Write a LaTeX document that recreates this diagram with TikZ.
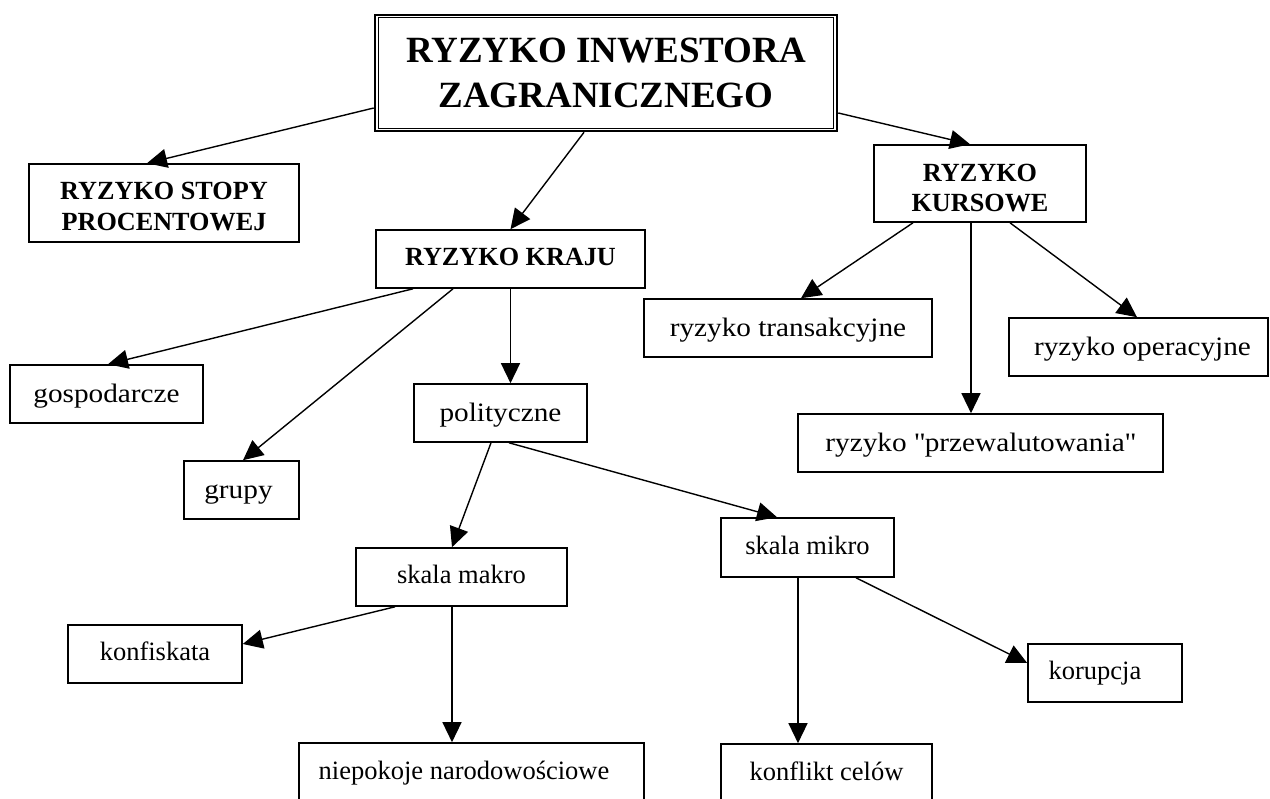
\documentclass[tikz,border=0pt]{standalone}
\usepackage{fontspec}
\setmainfont{Liberation Serif}
\newfontfamily\widefont[FakeStretch=1.1]{Liberation Serif}
\usetikzlibrary{arrows.meta}
\begin{document}
\begin{tikzpicture}[x=1pt,y=-1pt,
  box/.style={draw,line width=1.6pt,rectangle,inner sep=0pt,anchor=center},
  big/.style={box,minimum height=58pt,font=\widefont\fontsize{26.6}{32}\selectfont,text height=19pt,text depth=1pt},
  small/.style={box,minimum height=58pt,font=\fontsize{26.5}{32}\selectfont,text height=16pt,text depth=2.6pt},
  head/.style={box,font=\bfseries\fontsize{26.2}{31}\selectfont},
  arr/.style={line width=1.4pt,-{Triangle[length=20pt,width=19pt]}},
]
\clip (0,0) rectangle (1270,799);
% main
\node[box,line width=2.6pt,minimum width=462pt,minimum height=116pt,
  font=\bfseries\fontsize{37}{45}\selectfont,text height=24pt,text depth=44pt]
  (main) at (606,73) {\begin{tabular}[t]{@{}c@{}}RYZYKO INWESTORA\\ZAGRANICZNEGO\end{tabular}};
\draw[line width=1.3pt] ([shift={(5,4)}]main.north west) rectangle ([shift={(-5,-4)}]main.south east);
% level 1
\node[head,minimum width=270pt,minimum height=78pt,text height=17pt,text depth=23pt]
  (stopy) at (164,203) {\begin{tabular}[t]{@{}c@{}}RYZYKO STOPY\\PROCENTOWEJ\end{tabular}};
\node[head,minimum width=269pt,minimum height=58pt,text height=17pt,text depth=3pt]
  (kraju) at (510.5,259) {RYZYKO KRAJU};
\node[head,minimum width=212pt,minimum height=77pt,text height=17pt,text depth=20pt,
  font=\bfseries\fontsize{26.2}{30}\selectfont]
  (kurs) at (980,183.5) {\begin{tabular}[t]{@{}c@{}}RYZYKO\\KURSOWE\end{tabular}};
% kursowe children
\node[big,minimum width=288pt] (trans) at (788,328) {ryzyko transakcyjne};
\node[big,minimum width=259pt] (oper) at (1138.5,347) {ryzyko operacyjne\hspace*{-8pt}};
\node[big,minimum width=365pt] (przew) at (980.5,443) {ryzyko \textquotedbl przewalutowania\textquotedbl};
% kraju children
\node[big,minimum width=193pt] (gosp) at (106.5,394) {gospodarcze};
\node[big,minimum width=115pt] (grupy) at (241.5,490) {grupy\hspace*{6pt}};
\node[big,minimum width=173pt] (polit) at (500.5,413) {polityczne};
% polityczne children
\node[small,minimum width=211pt] (makro) at (461.5,577) {skala makro};
\node[small,minimum width=173pt,minimum height=59pt] (mikro) at (807.5,547.5) {skala mikro};
\node[small,minimum width=174pt] (konf) at (155,654) {konfiskata};
\node[small,minimum width=154pt] (koru) at (1105,673) {korupcja\hspace*{20pt}};
\node[small,minimum width=345pt,minimum height=63pt,text depth=6pt] (niep) at (471.5,774.5) {niepokoje narodowościowe\hspace*{15pt}};
\node[small,minimum width=211pt,minimum height=62pt,text depth=6pt] (konfl) at (826.5,775) {konflikt celów};
% arrows
\draw[arr] ([shift={(0,35)}]main.west) -- ([shift={(-17,0)}]stopy.north);
\draw[arr] ([shift={(-22,0)}]main.south) -- (kraju.north);
\draw[arr] ([shift={(0,40)}]main.east) -- ([shift={(-10,0)}]kurs.north);
\draw[arr] ([shift={(-67,0)}]kurs.south) -- ([shift={(13,0)}]trans.north);
\draw[arr] ([shift={(-9,0)}]kurs.south) -- ([shift={(-9.5,0)}]przew.north);
\draw[arr] ([shift={(30,0)}]kurs.south) -- ([shift={(-1.5,0)}]oper.north);
\draw[arr] ([shift={(-97.5,0)}]kraju.south) -- ([shift={(1.5,0)}]gosp.north);
\draw[arr] ([shift={(-57.5,0)}]kraju.south) -- ([shift={(1.5,0)}]grupy.north);
\draw[arr] (kraju.south) -- ([shift={(10,0)}]polit.north);
\draw[arr] ([shift={(-9.5,0)}]polit.south) -- ([shift={(-9.5,0)}]makro.north);
\draw[arr] ([shift={(8.5,0)}]polit.south) -- ([shift={(-30.5,0)}]mikro.north);
\draw[arr] ([shift={(-66.5,0)}]makro.south) -- ([shift={(0,-10)}]konf.east);
\draw[arr] ([shift={(-9.5,0)}]makro.south) -- ([shift={(-19.5,0)}]niep.north);
\draw[arr] ([shift={(-9.5,0)}]mikro.south) -- ([shift={(-28.5,0)}]konfl.north);
\draw[arr] ([shift={(48.5,0)}]mikro.south) -- ([shift={(0,-10)}]koru.west);
\end{tikzpicture}
\end{document}
